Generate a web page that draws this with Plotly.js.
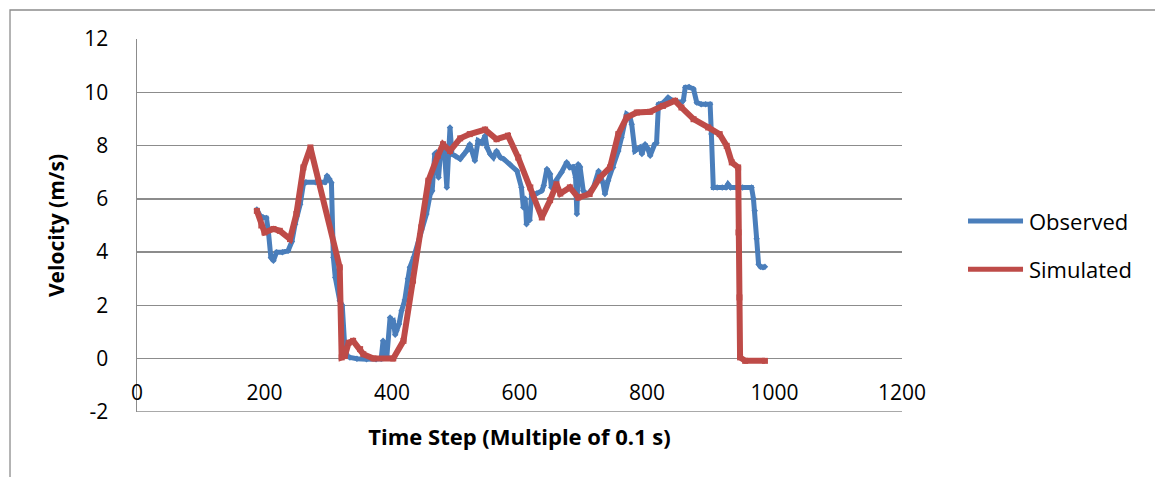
<!DOCTYPE html>
<html>
<head>
<meta charset="utf-8">
<script src="https://cdn.plot.ly/plotly-3.0.1.min.js"></script>
<style>
  html, body { margin: 0; padding: 0; background: #ffffff; }
  #chart { width: 1155px; height: 477px; }
</style>
</head>
<body>
<div id="chart"></div>
<script>
// Observed vehicle velocity (m/s) per time step (0.1 s)
const observedName = "Observed";
const observedT = [188, 193, 198, 203, 206, 210, 214, 219, 228, 237, 243, 248, 256, 261, 265, 280, 295, 298, 302, 305,
  308, 311, 318, 322, 326, 330, 334, 345, 360, 375, 383, 386, 388, 392, 397, 400, 402, 405, 407, 411,
  415, 420, 425, 428, 434, 444, 454, 460, 463, 467, 470, 473, 476, 480, 483, 486, 488, 491, 494, 500,
  507, 512, 517, 522, 526, 530, 535, 541, 546, 549, 554, 559, 564, 570, 575, 585, 596, 603, 606, 609,
  611, 613, 616, 619, 627, 635, 638, 643, 648, 650, 658, 666, 674, 679, 684, 688, 690, 692, 695, 700,
  705, 708, 716, 724, 731, 734, 739, 747, 755, 760, 768, 773, 776, 781, 789, 792, 797, 801, 805, 812,
  815, 818, 825, 833, 841, 854, 857, 860, 866, 873, 878, 885, 892, 899, 901, 904, 910, 918, 924, 927,
  931, 940, 950, 964, 967, 969, 972, 975, 978, 982, 985];
const observedV = [5.6, 5.37, 5.3, 5.28, 4.8, 3.8, 3.68, 4.0, 4.0, 4.05, 4.4, 5.05, 5.8, 6.55, 6.62, 6.62, 6.62, 6.87, 6.75, 6.6,
  3.8, 3.05, 2.18, 2.0, 0.4, 0.1, 0.05, 0.0, -0.02, -0.02, 0.0, 0.67, 0.05, 0.1, 1.55, 1.4, 1.42, 0.9, 1.05, 1.3,
  1.8, 2.2, 3.0, 3.43, 3.8, 4.68, 5.43, 6.18, 6.3, 7.68, 7.75, 6.8, 7.7, 7.93, 7.5, 6.43, 7.7, 8.68, 7.68, 7.6,
  7.5, 7.65, 7.8, 8.05, 7.8, 7.43, 8.18, 8.1, 8.37, 7.93, 7.68, 7.55, 7.8, 7.55, 7.5, 7.3, 7.05, 6.43, 5.68, 6.0,
  5.05, 5.6, 5.2, 6.18, 6.2, 6.3, 6.5, 7.12, 6.93, 6.43, 6.68, 7.0, 7.37, 7.18, 7.2, 6.8, 5.43, 7.3, 7.2, 6.3,
  6.18, 6.2, 6.43, 7.05, 6.6, 6.18, 6.68, 7.18, 7.8, 8.3, 9.18, 9.1, 8.8, 7.8, 7.93, 7.68, 8.05, 7.9, 7.62, 8.05,
  8.1, 9.55, 9.6, 9.8, 9.68, 9.62, 9.7, 10.18, 10.2, 10.12, 9.62, 9.55, 9.55, 9.55, 8.43, 6.43, 6.43, 6.43, 6.43, 6.55,
  6.43, 6.43, 6.43, 6.43, 6.0, 5.55, 4.5, 3.55, 3.45, 3.43, 3.45];

// Simulated velocity (m/s)
const simulatedName = "Simulated";
const simulatedT = [188, 195, 200, 214, 224, 240, 250, 261, 272, 318, 321, 326, 332, 339, 350, 355, 371, 402, 418, 433,
  446, 457, 472, 480, 491, 507, 522, 546, 564, 582, 598, 617, 635, 648, 658, 664, 679, 692, 710, 726,
  742, 755, 768, 784, 805, 825, 844, 854, 873, 896, 914, 925, 933, 943, 943.5, 945, 946, 954, 985];
const simulatedV = [5.55, 5.0, 4.74, 4.87, 4.8, 4.49, 5.43, 7.18, 7.93, 3.43, 0.05, 0.1, 0.6, 0.67, 0.36, 0.17, 0.01, 0.01, 0.67, 2.93,
  4.93, 6.68, 7.62, 8.05, 7.8, 8.27, 8.43, 8.6, 8.24, 8.37, 7.55, 6.43, 5.3, 5.95, 6.55, 6.2, 6.43, 6.05, 6.18, 6.8,
  7.18, 8.43, 9.05, 9.24, 9.27, 9.49, 9.68, 9.43, 8.99, 8.68, 8.43, 7.99, 7.37, 7.18, 4.74, 2.3, 0.05, -0.08, -0.08];

// Axis settings
const xTicks = [0, 200, 400, 600, 800, 1000, 1200];
const yTicks = [-2, 0, 2, 4, 6, 8, 10, 12];
const xTitle = "Time Step (Multiple of 0.1 s)";
const yTitle = "Velocity (m/s)";

const blue = "#4A7EBB";
const red = "#BE4B48";
const grid = "#8C8C8C";
const font = "'Open Sans', 'Noto Sans', sans-serif";

const traces = [
  {
    x: observedT, y: observedV, name: observedName, type: "scatter", mode: "lines+markers",
    line: { color: blue, width: 5 },
    marker: { color: blue, size: 5, symbol: "diamond" },
    showlegend: false
  },
  {
    x: simulatedT, y: simulatedV, name: simulatedName, type: "scatter", mode: "lines+markers",
    line: { color: red, width: 6 },
    marker: { color: red, size: 6, symbol: "square" },
    showlegend: false
  }
];

// Hand-built legend: sample line plus label for each series
const legendItems = [
  { name: observedName, color: blue, y: 0.512 },
  { name: simulatedName, color: red, y: 0.383 }
];
const shapes = [
  // outer chart frame
  { type: "rect", xref: "paper", yref: "paper", x0: -0.166, x1: 1.6, y0: -0.5, y1: 1.0777,
    line: { color: "#8C8C8C", width: 1.3 }, fillcolor: "rgba(0,0,0,0)", layer: "below" },
  // bottom axis line at the lowest value of the scale
  { type: "line", xref: "paper", yref: "y", x0: 0, x1: 1, y0: yTicks[0], y1: yTicks[0],
    line: { color: grid, width: 1.5 }, layer: "below" }
];
const annotations = [];
legendItems.forEach(it => {
  shapes.push({ type: "line", xref: "paper", yref: "paper", x0: 1.0863, x1: 1.1582, y0: it.y, y1: it.y,
    line: { color: it.color, width: 5 } });
  annotations.push({ xref: "paper", yref: "paper", x: 1.1634, y: it.y, xanchor: "left", yanchor: "middle",
    text: it.name, showarrow: false, font: { family: font, size: 22, color: "#000" } });
});

const layout = {
  width: 1155, height: 477,
  margin: { l: 137, r: 253, t: 39, b: 65 },
  paper_bgcolor: "#ffffff", plot_bgcolor: "#ffffff",
  font: { family: font, size: 22, color: "#000000" },
  showlegend: false,
  xaxis: {
    range: [0, 1200], tickvals: xTicks, ticktext: xTicks.map(String),
    showgrid: false, zeroline: false, showline: false,
    ticks: "", ticklabelposition: "outside", ticklabelstandoff: -34,
    tickfont: { family: font, size: 21, color: "#000" },
    title: { text: xTitle, font: { family: font, size: 22, color: "#000", weight: "bold" }, standoff: 24 }
  },
  yaxis: {
    range: [-2, 12], tickvals: yTicks, ticktext: yTicks.map(String),
    showgrid: true, gridcolor: grid, gridwidth: 1.5, zeroline: false,
    showline: true, linecolor: grid, linewidth: 1.5,
    ticks: "", ticklabelstandoff: 23,
    tickfont: { family: font, size: 21, color: "#000" },
    title: { text: yTitle, font: { family: font, size: 21, color: "#000", weight: "bold" }, standoff: 14 }
  },
  shapes: shapes,
  annotations: annotations
};

Plotly.newPlot("chart", traces, layout, { displayModeBar: false, staticPlot: true });
</script>
</body>
</html>
